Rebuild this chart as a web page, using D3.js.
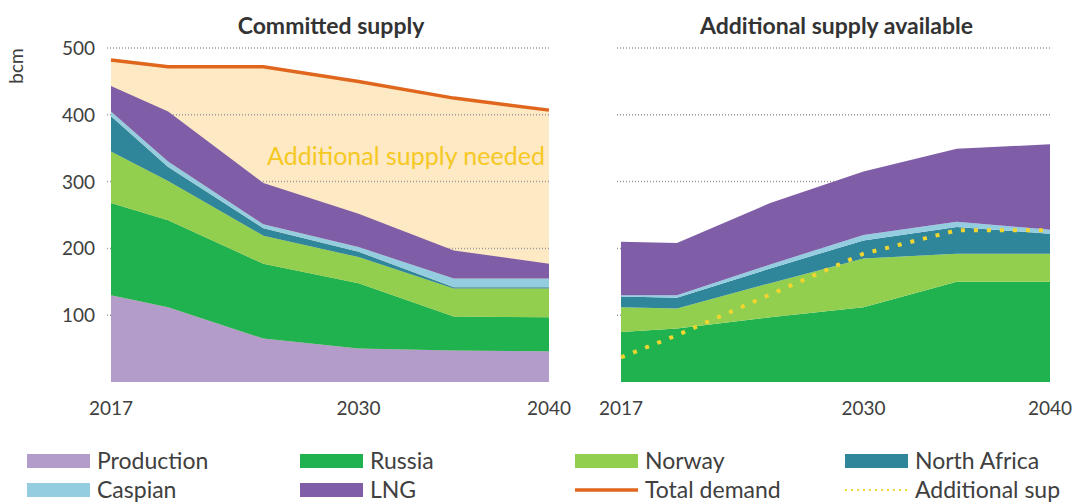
<!DOCTYPE html>
<html>
<head>
<meta charset="utf-8">
<script src="https://cdn.jsdelivr.net/npm/d3@7"></script>
<style>
  body { margin: 0; background: #fff; }
  svg { display: block; font-family: Lato, "Open Sans", sans-serif; }
</style>
</head>
<body>
<div id="chart"></div>
<script>
// years shared by both panels
const years = [2017, 2020, 2025, 2030, 2035, 2040];
const xTicks = [2017, 2030, 2040];
const yTicks = [100, 200, 300, 400, 500];

// committed supply (bcm, stacked)
const committedProduction = [130, 112, 65, 50, 47, 46];
const committedRussia = [138, 130, 112, 98, 51, 51];
const committedNorway = [77, 59, 42, 39, 42, 43];
const committedNorthAfrica = [53, 21, 11, 8, 2, 2];
const committedCaspian = [7, 8, 6, 7, 13, 13];
const committedLNG = [38, 75, 62, 50, 42, 22];
const totalDemand = [482, 472, 472, 450, 425, 407];

// additional supply available (bcm, stacked)
const additionalProduction = [0, 0, 0, 0, 0, 0];
const additionalRussia = [75, 80, 97, 112, 150, 150];
const additionalNorway = [37, 30, 51, 73, 42, 42];
const additionalNorthAfrica = [16, 16, 22, 27, 40, 30];
const additionalCaspian = [2, 4, 6, 8, 8, 6];
const additionalLNG = [80, 78, 92, 95, 109, 128];
const additionalNeeded = [37, 70, 131, 192, 227, 227];

const seriesKeys = ["Production", "Russia", "Norway", "North Africa", "Caspian", "LNG"];
const colors = {
    "Production": "#b39cc9",
    "Russia": "#20b24f",
    "Norway": "#93cf4f",
    "North Africa": "#2f8599",
    "Caspian": "#95cde0",
    "LNG": "#7f5ea7"
};

const width = 1081, height = 504;
const svg = d3.select("#chart").append("svg")
    .attr("width", width)
    .attr("height", height);

const y = d3.scaleLinear().domain([0, 500]).range([382, 48]);

function toRows(cols) {
    return years.map((yr, i) => {
        let row = {year: yr};
        seriesKeys.forEach((k, j) => row[k] = cols[j][i]);
        return row;
    });
}

function drawPanel(x0, x1, title, cols, opts) {
    let x = d3.scaleLinear().domain([2017, 2040]).range([x0, x1]);
    let g = svg.append("g");

    if (opts.demand) {
        // beige band for the gap up to total demand
        let gap = d3.area()
            .x((d, i) => x(years[i]))
            .y0(y(0))
            .y1(d => y(d));
        g.append("path")
            .datum(opts.demand)
            .attr("d", gap)
            .attr("fill", "#fde9c3");
    }

    // dotted gridlines
    g.selectAll("line.grid")
        .data(yTicks)
        .enter().append("line")
        .attr("class", "grid")
        .attr("x1", x0 - 4).attr("x2", x1 + 2)
        .attr("y1", d => y(d)).attr("y2", d => y(d))
        .attr("stroke", "#9a9a9a")
        .attr("stroke-width", 1.5)
        .attr("stroke-dasharray", "1,2");

    let stacked = d3.stack().keys(seriesKeys)(toRows(cols));
    let area = d3.area()
        .x(d => x(d.data.year))
        .y0(d => y(d[0]))
        .y1(d => y(d[1]));

    g.selectAll("path.layer")
        .data(stacked)
        .enter().append("path")
        .attr("class", "layer")
        .attr("d", area)
        .attr("fill", d => colors[d.key]);

    if (opts.demand) {
        let line = d3.line().x((d, i) => x(years[i])).y(d => y(d));
        g.append("path")
            .datum(opts.demand)
            .attr("d", line)
            .attr("fill", "none")
            .attr("stroke", "#e0661d")
            .attr("stroke-width", 3.5);
        g.append("text")
            .attr("x", 406).attr("y", 165)
            .attr("text-anchor", "middle")
            .attr("font-size", 25)
            .attr("fill", "#f6c823")
            .text("Additional supply needed");
    }

    if (opts.needed) {
        let line = d3.line().x((d, i) => x(years[i])).y(d => y(d));
        g.append("path")
            .datum(opts.needed)
            .attr("d", line)
            .attr("fill", "none")
            .attr("stroke", "#f1d630")
            .attr("stroke-width", 4)
            .attr("stroke-dasharray", "4,9");
    }

    g.selectAll("text.xlab")
        .data(xTicks)
        .enter().append("text")
        .attr("class", "xlab")
        .attr("x", d => x(d))
        .attr("y", 415)
        .attr("text-anchor", "middle")
        .attr("font-size", 19)
        .attr("fill", "#404040")
        .text(d => d);

    g.append("text")
        .attr("x", (x0 + x1) / 2 + 1).attr("y", 34)
        .attr("text-anchor", "middle")
        .attr("font-size", 23)
        .attr("font-weight", "bold")
        .attr("fill", "#333")
        .text(title);
}

drawPanel(111, 549, "Committed supply",
    [committedProduction, committedRussia, committedNorway, committedNorthAfrica, committedCaspian, committedLNG],
    {demand: totalDemand});
drawPanel(621, 1050, "Additional supply available",
    [additionalProduction, additionalRussia, additionalNorway, additionalNorthAfrica, additionalCaspian, additionalLNG],
    {needed: additionalNeeded});

// y axis labels
svg.selectAll("text.ylab")
    .data(yTicks)
    .enter().append("text")
    .attr("class", "ylab")
    .attr("x", 95)
    .attr("y", d => y(d) + 7)
    .attr("text-anchor", "end")
    .attr("font-size", 19)
    .attr("fill", "#404040")
    .text(d => d);

svg.append("text")
    .attr("transform", "translate(23,66) rotate(-90)")
    .attr("text-anchor", "middle")
    .attr("font-size", 19)
    .attr("fill", "#404040")
    .text("bcm");

// legend
const legendItems = [
    {label: "Production", type: "rect", color: colors["Production"]},
    {label: "Russia", type: "rect", color: colors["Russia"]},
    {label: "Norway", type: "rect", color: colors["Norway"]},
    {label: "North Africa", type: "rect", color: colors["North Africa"]},
    {label: "Caspian", type: "rect", color: colors["Caspian"]},
    {label: "LNG", type: "rect", color: colors["LNG"]},
    {label: "Total demand", type: "line", color: "#e0661d"},
    {label: "Additional sup", type: "dots", color: "#f1d630"}
];
const legendX = [27, 300, 575, 845];
const legendY = [461, 490];

let leg = svg.selectAll("g.leg")
    .data(legendItems)
    .enter().append("g")
    .attr("class", "leg")
    .attr("transform", (d, i) => "translate(" + legendX[i % 4] + "," + legendY[Math.floor(i / 4)] + ")");

leg.filter(d => d.type == "rect").append("rect")
    .attr("x", 0).attr("y", -7)
    .attr("width", 63).attr("height", 14)
    .attr("fill", d => d.color);

leg.filter(d => d.type == "line").append("line")
    .attr("x1", 0).attr("x2", 63)
    .attr("stroke", d => d.color)
    .attr("stroke-width", 3.5);

leg.filter(d => d.type == "dots").append("line")
    .attr("x1", 0).attr("x2", 63)
    .attr("stroke", d => d.color)
    .attr("stroke-width", 2)
    .attr("stroke-dasharray", "2,4");

leg.append("text")
    .attr("x", 70)
    .attr("y", 8)
    .attr("font-size", 23)
    .attr("fill", "#404040")
    .text(d => d.label);
</script>
</body>
</html>
